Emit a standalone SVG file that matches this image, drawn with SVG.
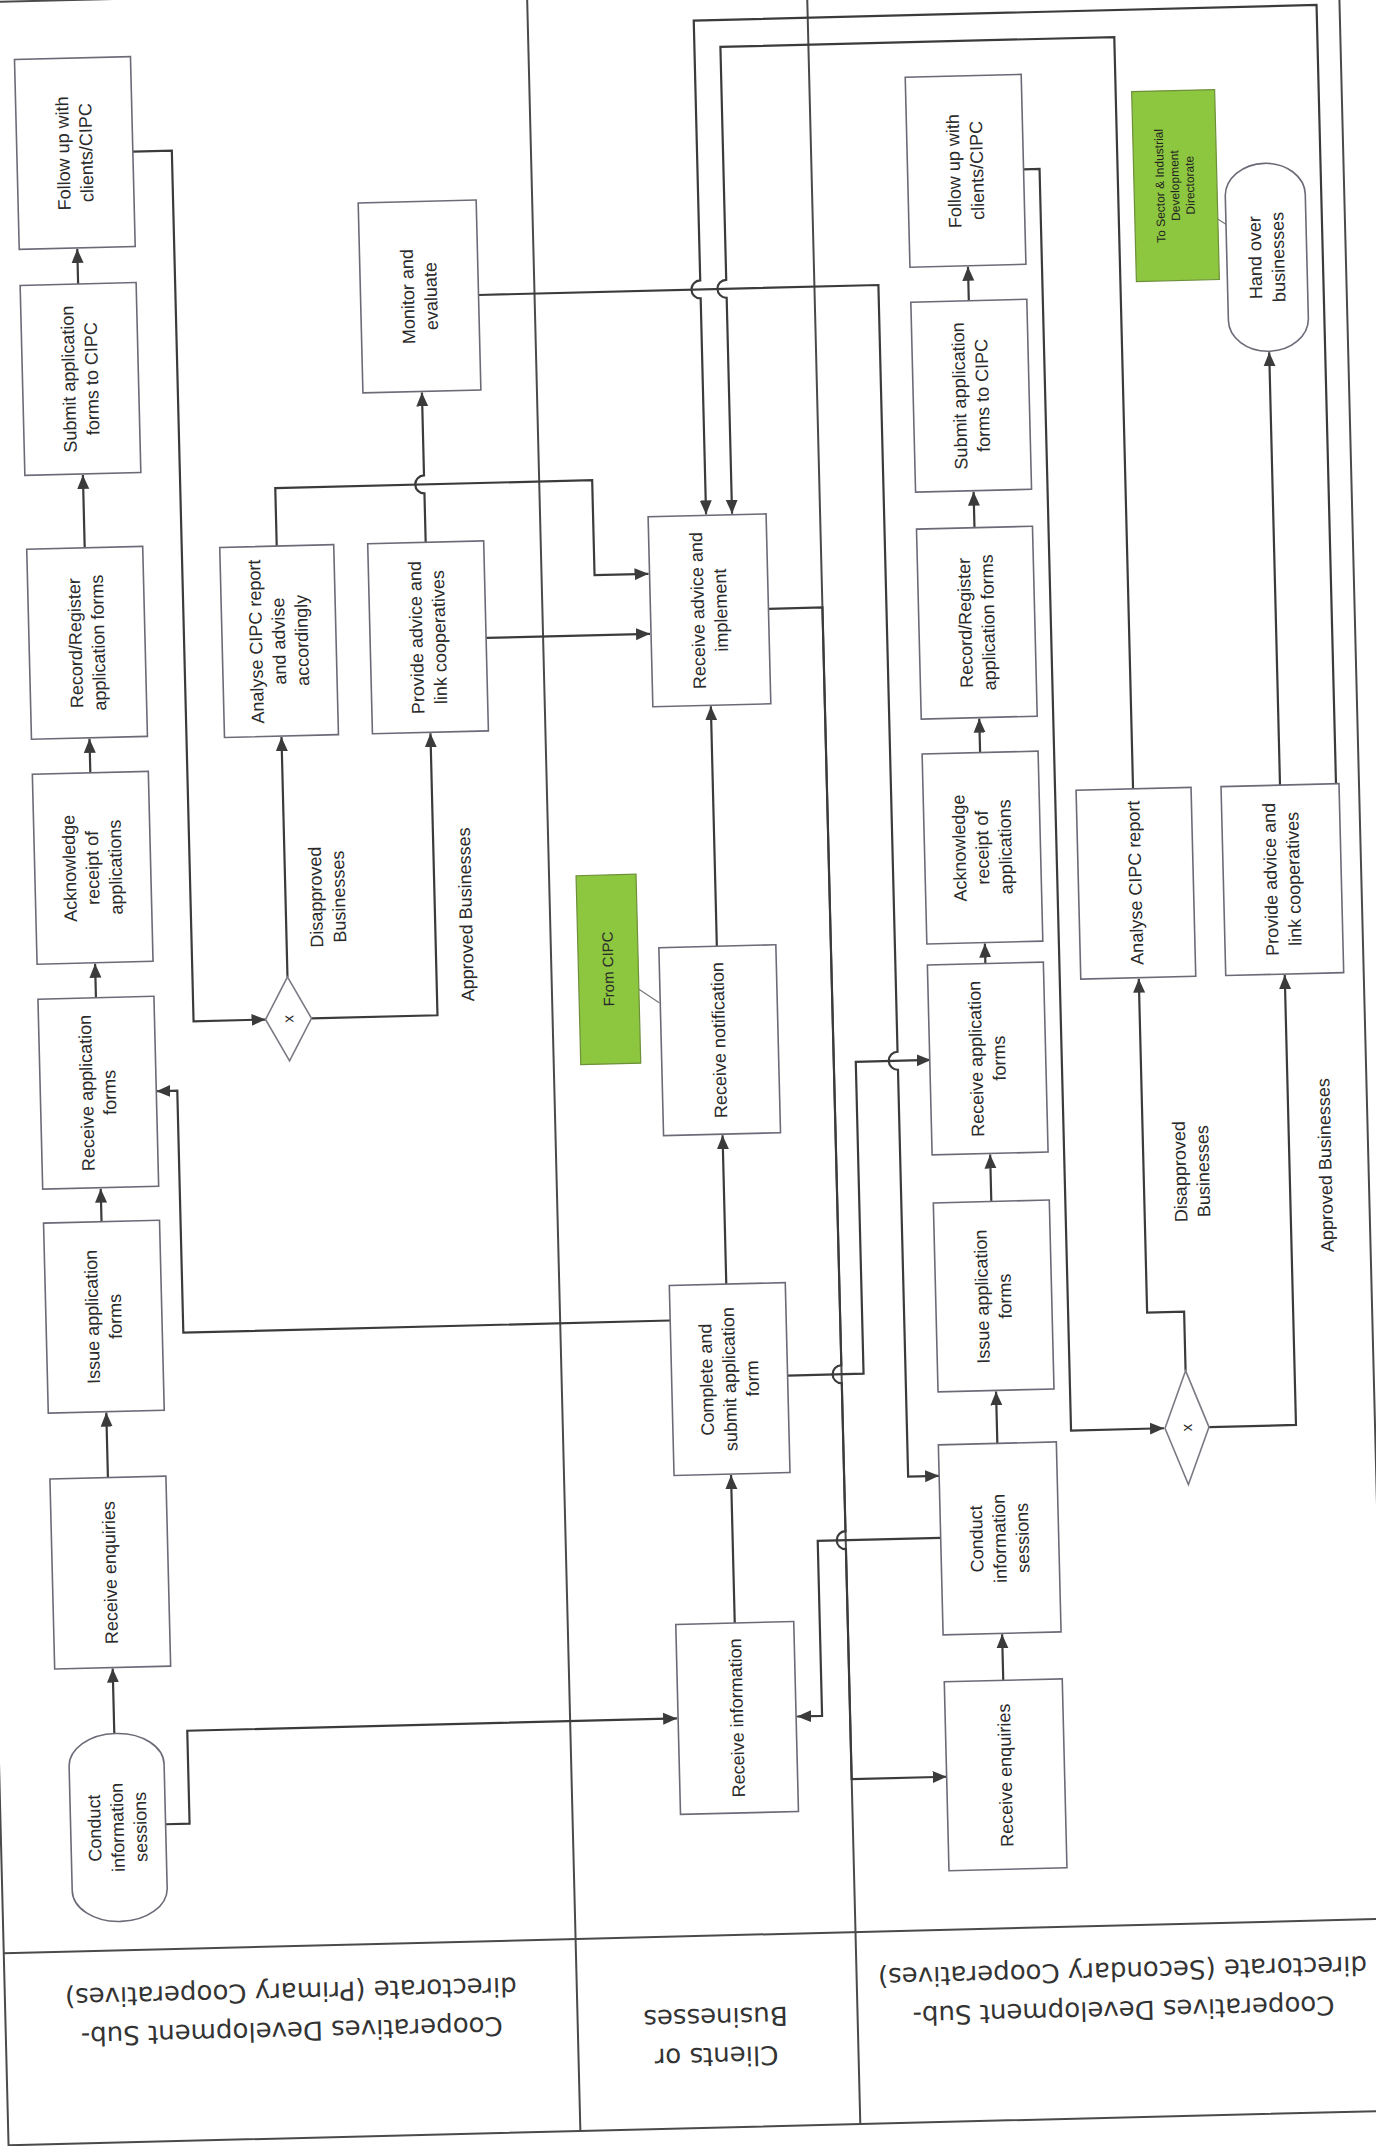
<svg xmlns="http://www.w3.org/2000/svg" width="1376" height="2146" viewBox="0 0 1376 2146">
<defs>
<style>
.box{fill:#fff;stroke:#6b6b78;stroke-width:1.6}
.dia{fill:#fff;stroke:#7a7a84;stroke-width:1.6}
.grn{fill:#8dc63f;stroke:#6e8f3a;stroke-width:1.2}
.c{fill:none;stroke:#3b3b3b;stroke-width:2.2}
.lane{fill:none;stroke:#4a4a4a;stroke-width:2}
.note{fill:none;stroke:#777;stroke-width:1.2}
.t{font-family:'Liberation Sans',Arial,sans-serif;font-size:18px;fill:#2a2a2a;text-anchor:middle}
.sm{font-family:'Liberation Sans',Arial,sans-serif;font-size:15px;fill:#2a2a2a;text-anchor:middle}
.xs{font-family:'Liberation Sans',Arial,sans-serif;font-size:12px;fill:#222;text-anchor:middle}
.h{font-family:'DejaVu Sans',Verdana,sans-serif;font-size:26px;fill:#333;text-anchor:middle}
</style>
<marker id="ah" markerUnits="userSpaceOnUse" markerWidth="16" markerHeight="14" refX="14" refY="7" orient="auto">
<path d="M0,1 L14,7 L0,13 z" fill="#3b3b3b"/>
</marker>
</defs>
<rect x="0" y="0" width="1376" height="2146" fill="#fff"/>
<g transform="rotate(-1.43 688 1073)">
<g id="lanes">
<rect class="lane" x="-18" y="-15" width="1384" height="2143"/>
<line class="lane" x1="-18" y1="1936" x2="1366" y2="1936"/>
<line class="lane" x1="554" y1="-15" x2="554" y2="2128"/>
<line class="lane" x1="834" y1="-15" x2="834" y2="2128"/>
<text class="h" transform="translate(268,2002) rotate(180)"><tspan x="0" y="-10">Cooperatives Development Sub-</tspan><tspan x="0" y="29">directorate (Primary Cooperatives)</tspan></text>
<text class="h" transform="translate(692,2038) rotate(180)"><tspan x="0" y="-10">Clients or</tspan><tspan x="0" y="29">Businesses</tspan></text>
<text class="h" transform="translate(1100,2002) rotate(180)"><tspan x="0" y="-10">Cooperatives Development Sub-</tspan><tspan x="0" y="29">directorate (Secondary Cooperatives)</tspan></text>
</g>
<g id="connectors">
<path class="c" marker-end="url(#ah)" d="M98,1719 V1654"/>
<path class="c" marker-end="url(#ah)" d="M98,1463 V1398"/>
<path class="c" marker-end="url(#ah)" d="M98,1207 V1174"/>
<path class="c" marker-end="url(#ah)" d="M98,983 V949"/>
<path class="c" marker-end="url(#ah)" d="M98,758 V724"/>
<path class="c" marker-end="url(#ah)" d="M98,533 V460"/>
<path class="c" marker-end="url(#ah)" d="M98,269 V234"/>
<path class="c" marker-end="url(#ah)" d="M156,138 H195 V1009 H267"/>
<path class="c" marker-end="url(#ah)" d="M290,967 V727"/>
<path class="c" marker-end="url(#ah)" d="M313,1009 H439 V727"/>
<path class="c" marker-end="url(#ah)" d="M439,536 V487 A9,9 0 0 1 439,469 V386"/>
<path class="c" marker-end="url(#ah)" d="M290,536 V478 H607 V573 H661"/>
<path class="c" marker-end="url(#ah)" d="M497,633 H661"/>
<path class="c" marker-end="url(#ah)" d="M498,290 H898 V1057 A9,9 0 0 0 898,1075 V1482 H929"/>
<path class="c" marker-end="url(#ah)" d="M664,1320 H177 V1078 H156"/>
<path class="c" marker-end="url(#ah)" d="M780,1378 H856 V1066 H931"/>
<path class="c" marker-end="url(#ah)" d="M147,1811 H171 V1718 H661"/>
<path class="c" marker-end="url(#ah)" d="M929,1544 H806 V1719 H781"/>
<path class="c" marker-end="url(#ah)" d="M721,1624 V1476"/>
<path class="c" marker-end="url(#ah)" d="M721,1285 V1136"/>
<path class="c" marker-end="url(#ah)" d="M720,947 V707"/>
<path class="c" marker-end="url(#ah)" d="M780,611 H834 V1369 A9,9 0 0 0 834,1387 V1535 A9,9 0 0 0 834,1553 V1783 H929"/>
<path class="c" marker-end="url(#ah)" d="M988,1688 V1642"/>
<path class="c" marker-end="url(#ah)" d="M988,1451 V1399"/>
<path class="c" marker-end="url(#ah)" d="M988,1209 V1162"/>
<path class="c" marker-end="url(#ah)" d="M988,971 V951"/>
<path class="c" marker-end="url(#ah)" d="M988,760 V726"/>
<path class="c" marker-end="url(#ah)" d="M988,535 V499"/>
<path class="c" marker-end="url(#ah)" d="M988,308 V274"/>
<path class="c" marker-end="url(#ah)" d="M1046,178 H1062 V1440 H1155"/>
<path class="c" marker-end="url(#ah)" d="M1178,1383 V1324 H1141 V990"/>
<path class="c" marker-end="url(#ah)" d="M1200,1440 H1287 V990"/>
<path class="c" marker-end="url(#ah)" d="M1287,800 V367"/>
<path class="c" marker-end="url(#ah)" d="M1343,800 V21 H720 V281 A9,9 0 0 0 720,299 V515"/>
<path class="c" marker-end="url(#ah)" d="M1140,800 V48 H746 V281 A9,9 0 0 0 746,299 V515"/>
<path class="note" d="M641,988 L661,1002"/>
<path class="note" d="M1238,232 L1247,238"/>
</g>
<g id="p_follow"><rect class="box" x="40" y="43" width="116" height="190"/><text class="t" transform="translate(98,138) rotate(-90)"><tspan x="0" y="-5.5">Follow up with</tspan><tspan x="0" y="17.5">clients/CIPC</tspan></text></g>
<g id="p_submit"><rect class="box" x="40" y="269" width="116" height="190"/><text class="t" transform="translate(98,364) rotate(-90)"><tspan x="0" y="-5.5">Submit application</tspan><tspan x="0" y="17.5">forms to CIPC</tspan></text></g>
<g id="p_record"><rect class="box" x="40" y="533" width="116" height="190"/><text class="t" transform="translate(98,628) rotate(-90)"><tspan x="0" y="-5.5">Record/Register</tspan><tspan x="0" y="17.5">application forms</tspan></text></g>
<g id="p_ack"><rect class="box" x="40" y="758" width="116" height="190"/><text class="t" transform="translate(98,853) rotate(-90)"><tspan x="0" y="-17">Acknowledge</tspan><tspan x="0" y="6">receipt of</tspan><tspan x="0" y="29">applications</tspan></text></g>
<g id="p_recvapp"><rect class="box" x="40" y="983" width="116" height="190"/><text class="t" transform="translate(98,1078) rotate(-90)"><tspan x="0" y="-5.5">Receive application</tspan><tspan x="0" y="17.5">forms</tspan></text></g>
<g id="p_issue"><rect class="box" x="40" y="1207" width="116" height="190"/><text class="t" transform="translate(98,1302) rotate(-90)"><tspan x="0" y="-5.5">Issue application</tspan><tspan x="0" y="17.5">forms</tspan></text></g>
<g id="p_recvenq"><rect class="box" x="40" y="1463" width="116" height="190"/><text class="t" transform="translate(98,1558) rotate(-90)"><tspan x="0" y="6">Receive enquiries</tspan></text></g>
<g id="p_conduct"><rect class="box" x="52" y="1719" width="95" height="188" rx="47" ry="32"/><text class="t" transform="translate(99,1813) rotate(-90)"><tspan x="0" y="-17">Conduct</tspan><tspan x="0" y="6">information</tspan><tspan x="0" y="29">sessions</tspan></text></g>
<g id="p_analyse"><rect class="box" x="233" y="536" width="114" height="190"/><text class="t" transform="translate(290,631) rotate(-90)"><tspan x="0" y="-17">Analyse CIPC report</tspan><tspan x="0" y="6">and advise</tspan><tspan x="0" y="29">accordingly</tspan></text></g>
<g id="p_provide"><rect class="box" x="381" y="536" width="116" height="190"/><text class="t" transform="translate(439,631) rotate(-90)"><tspan x="0" y="-5.5">Provide advice and</tspan><tspan x="0" y="17.5">link cooperatives</tspan></text></g>
<g id="p_monitor"><rect class="box" x="380" y="195" width="118" height="190"/><text class="t" transform="translate(439,290) rotate(-90)"><tspan x="0" y="-5.5">Monitor and</tspan><tspan x="0" y="17.5">evaluate</tspan></text></g>
<g id="p_gateway"><polygon class="dia" points="290,967 313,1009 290,1051 267,1009"/><text class="sm" transform="translate(290,1009) rotate(-90)"><tspan x="0" y="5">x</tspan></text></g>
<g id="p_labels"><text class="t" transform="translate(332,888) rotate(-90)"><tspan x="0" y="-5.5">Disapproved</tspan><tspan x="0" y="17.5">Businesses</tspan></text><text class="t" transform="translate(470,909) rotate(-90)"><tspan x="0" y="6">Approved Businesses</tspan></text></g>
<g id="c_advice"><rect class="box" x="662" y="516" width="118" height="190"/><text class="t" transform="translate(721,611) rotate(-90)"><tspan x="0" y="-5.5">Receive advice and</tspan><tspan x="0" y="17.5">implement</tspan></text></g>
<g id="c_notification"><rect class="box" x="662" y="947" width="117" height="188"/><text class="t" transform="translate(720,1041) rotate(-90)"><tspan x="0" y="6">Receive notification</tspan></text></g>
<g id="c_fromcipc"><rect class="grn" x="581" y="873" width="60" height="189"/><text class="sm" transform="translate(611,967) rotate(-90)"><tspan x="0" y="5">From CIPC</tspan></text></g>
<g id="c_complete"><rect class="box" x="664" y="1285" width="116" height="190"/><text class="t" transform="translate(722,1380) rotate(-90)"><tspan x="0" y="-17">Complete and</tspan><tspan x="0" y="6">submit application</tspan><tspan x="0" y="29">form</tspan></text></g>
<g id="c_info"><rect class="box" x="662" y="1624" width="118" height="190"/><text class="t" transform="translate(721,1719) rotate(-90)"><tspan x="0" y="6">Receive information</tspan></text></g>
<g id="s_follow"><rect class="box" x="930" y="83" width="116" height="190"/><text class="t" transform="translate(988,178) rotate(-90)"><tspan x="0" y="-5.5">Follow up with</tspan><tspan x="0" y="17.5">clients/CIPC</tspan></text></g>
<g id="s_submit"><rect class="box" x="930" y="308" width="116" height="190"/><text class="t" transform="translate(988,403) rotate(-90)"><tspan x="0" y="-5.5">Submit application</tspan><tspan x="0" y="17.5">forms to CIPC</tspan></text></g>
<g id="s_record"><rect class="box" x="930" y="535" width="116" height="190"/><text class="t" transform="translate(988,630) rotate(-90)"><tspan x="0" y="-5.5">Record/Register</tspan><tspan x="0" y="17.5">application forms</tspan></text></g>
<g id="s_ack"><rect class="box" x="930" y="760" width="116" height="190"/><text class="t" transform="translate(988,855) rotate(-90)"><tspan x="0" y="-17">Acknowledge</tspan><tspan x="0" y="6">receipt of</tspan><tspan x="0" y="29">applications</tspan></text></g>
<g id="s_recvapp"><rect class="box" x="930" y="971" width="116" height="190"/><text class="t" transform="translate(988,1066) rotate(-90)"><tspan x="0" y="-5.5">Receive application</tspan><tspan x="0" y="17.5">forms</tspan></text></g>
<g id="s_issue"><rect class="box" x="930" y="1209" width="116" height="189"/><text class="t" transform="translate(988,1304) rotate(-90)"><tspan x="0" y="-5.5">Issue application</tspan><tspan x="0" y="17.5">forms</tspan></text></g>
<g id="s_conduct"><rect class="box" x="929" y="1451" width="118" height="190"/><text class="t" transform="translate(988,1546) rotate(-90)"><tspan x="0" y="-17">Conduct</tspan><tspan x="0" y="6">information</tspan><tspan x="0" y="29">sessions</tspan></text></g>
<g id="s_recvenq"><rect class="box" x="929" y="1688" width="118" height="189"/><text class="t" transform="translate(988,1783) rotate(-90)"><tspan x="0" y="6">Receive enquiries</tspan></text></g>
<g id="s_analyse"><rect class="box" x="1083" y="800" width="115" height="189"/><text class="t" transform="translate(1140,894) rotate(-90)"><tspan x="0" y="6">Analyse CIPC report</tspan></text></g>
<g id="s_provide"><rect class="box" x="1228" y="800" width="118" height="189"/><text class="t" transform="translate(1287,894) rotate(-90)"><tspan x="0" y="-5.5">Provide advice and</tspan><tspan x="0" y="17.5">link cooperatives</tspan></text></g>
<g id="s_handover"><rect class="box" x="1247" y="178" width="80" height="188" rx="40" ry="32"/><text class="t" transform="translate(1287,272) rotate(-90)"><tspan x="0" y="-5.5">Hand over</tspan><tspan x="0" y="17.5">businesses</tspan></text></g>
<g id="s_tosector"><rect class="grn" x="1156" y="103" width="83" height="190"/><text class="xs" transform="translate(1197,198) rotate(-90)"><tspan x="0" y="-11">To Sector &amp; Industrial</tspan><tspan x="0" y="4">Development</tspan><tspan x="0" y="19">Directorate</tspan></text></g>
<g id="s_gateway"><polygon class="dia" points="1178,1383 1200,1440 1178,1497 1156,1440"/><text class="sm" transform="translate(1178,1440) rotate(-90)"><tspan x="0" y="5">x</tspan></text></g>
<g id="s_labels"><text class="t" transform="translate(1189,1184) rotate(-90)"><tspan x="0" y="-5.5">Disapproved</tspan><tspan x="0" y="17.5">Businesses</tspan></text><text class="t" transform="translate(1323,1181) rotate(-90)"><tspan x="0" y="6">Approved Businesses</tspan></text></g>
</g>
</svg>
